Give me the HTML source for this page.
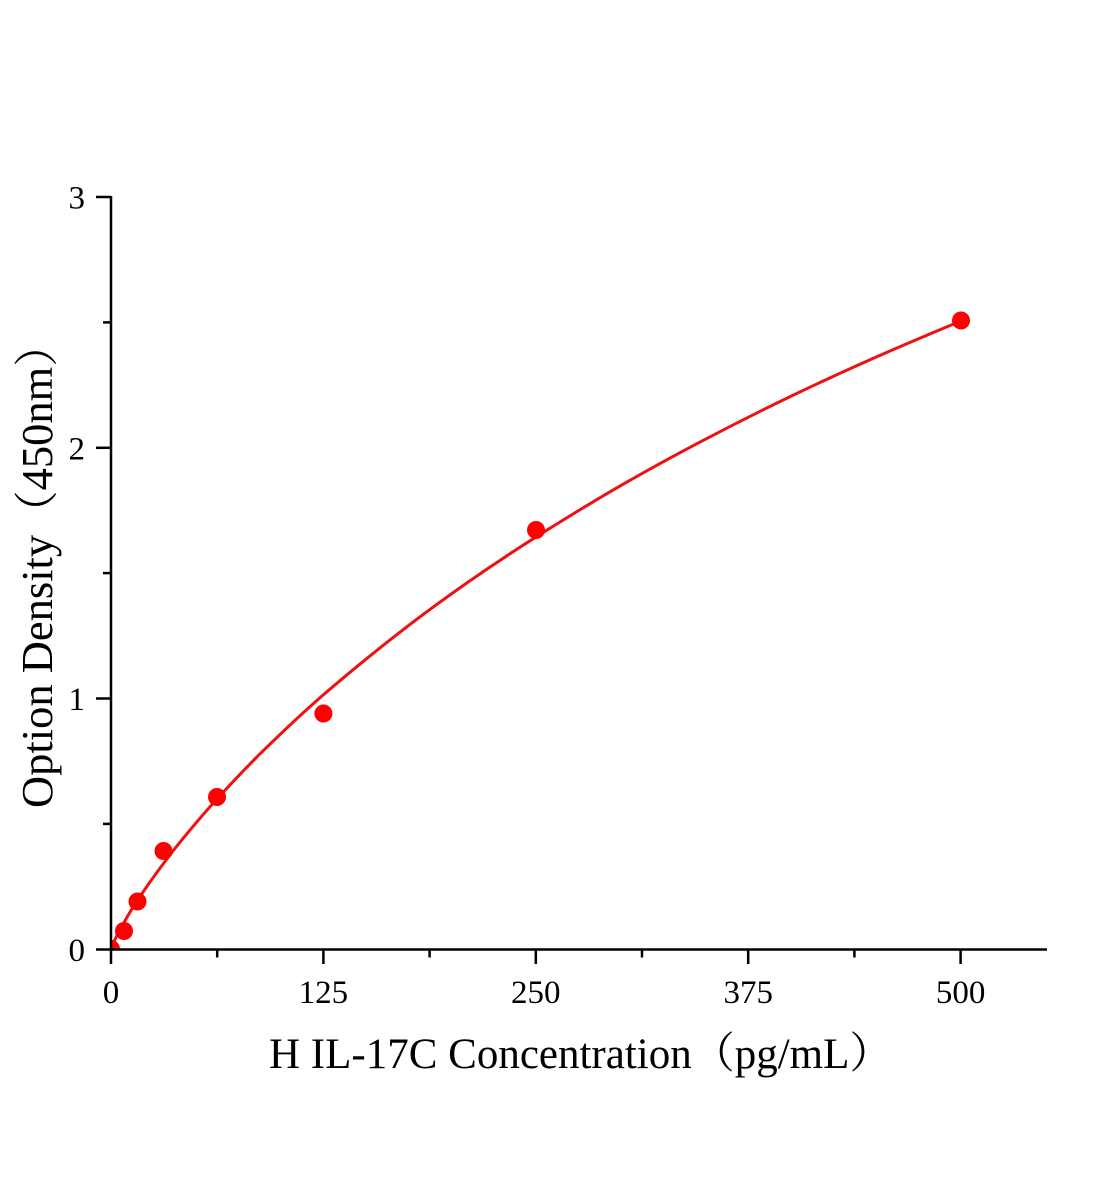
<!DOCTYPE html>
<html>
<head>
<meta charset="utf-8">
<style>
html,body{margin:0;padding:0;background:#fff;}
svg{display:block;}
text{font-family:"Liberation Serif","Noto Serif CJK SC",serif;fill:#000;}
</style>
</head>
<body>
<svg width="1104" height="1200" viewBox="0 0 1104 1200" xmlns="http://www.w3.org/2000/svg">
<defs>
<clipPath id="pa"><rect x="111" y="150" width="960" height="799.5"/></clipPath>
</defs>
<rect width="1104" height="1200" fill="#fff"/>

<g clip-path="url(#pa)">
<path d="M111,949.5 L112.7,944.6 L114.4,940.7 L119.5,930.5 L128,915.5
C131.17,910.19 134.33,905.07 137.5,900.3
C142.83,892.27 148.17,884.41 153.5,877.1
C161.97,865.5 170.43,854.01 178.9,843.6
C191.67,827.91 204.43,812.84 217.2,798.8
C232.77,781.68 248.33,765.34 263.9,750.1
C283.7,730.72 303.5,712.07 323.3,694.9
C348.8,672.79 374.3,652.16 399.8,632.3
C422.43,614.67 445.07,598.24 467.7,582.4
C490.37,566.53 513.03,551.53 535.7,537.2
C564,519.31 592.3,502.03 620.6,485.7
C648.9,469.37 677.2,454.06 705.5,439.2
C733.8,424.34 762.1,410.11 790.4,396.5
C818.73,382.87 847.07,369.95 875.4,357.4
C903.7,344.86 932,332.94 960.3,321.2" fill="none" stroke="#ee1111" stroke-width="3" stroke-linejoin="round"/>
<g fill="#ff0000">
<circle cx="111" cy="949" r="9"/>
<circle cx="124" cy="931" r="9"/>
<circle cx="137.5" cy="901.5" r="9"/>
<circle cx="163.5" cy="851" r="9"/>
<circle cx="217" cy="797" r="9"/>
<circle cx="323.4" cy="713.5" r="9"/>
<circle cx="536" cy="530" r="9"/>
<circle cx="961" cy="320.5" r="9"/>
</g>
</g>

<g stroke="#000" stroke-width="2.5" fill="none">
<line x1="111" y1="196" x2="111" y2="950.5"/>
<line x1="109.8" y1="949.5" x2="1047" y2="949.5"/>
<line x1="96" y1="197" x2="111" y2="197"/>
<line x1="96" y1="447.8" x2="111" y2="447.8"/>
<line x1="96" y1="698.5" x2="111" y2="698.5"/>
<line x1="96" y1="949.5" x2="111" y2="949.5"/>
<line x1="103" y1="322.4" x2="111" y2="322.4"/>
<line x1="103" y1="573.1" x2="111" y2="573.1"/>
<line x1="103" y1="823.9" x2="111" y2="823.9"/>
<line x1="111" y1="949.5" x2="111" y2="964"/>
<line x1="323.4" y1="949.5" x2="323.4" y2="964"/>
<line x1="535.8" y1="949.5" x2="535.8" y2="964"/>
<line x1="748.2" y1="949.5" x2="748.2" y2="964"/>
<line x1="960.6" y1="949.5" x2="960.6" y2="964"/>
<line x1="217.2" y1="949.5" x2="217.2" y2="957.5"/>
<line x1="429.6" y1="949.5" x2="429.6" y2="957.5"/>
<line x1="642" y1="949.5" x2="642" y2="957.5"/>
<line x1="854.4" y1="949.5" x2="854.4" y2="957.5"/>
</g>

<g font-size="33">
<text x="85" y="208.5" text-anchor="end">3</text>
<text x="85" y="459.5" text-anchor="end">2</text>
<text x="85" y="710" text-anchor="end">1</text>
<text x="85" y="961" text-anchor="end">0</text>

<text x="111" y="1003" text-anchor="middle">0</text>
<text x="323.4" y="1003" text-anchor="middle">125</text>
<text x="535.8" y="1003" text-anchor="middle">250</text>
<text x="748.2" y="1003" text-anchor="middle">375</text>
<text x="960.6" y="1003" text-anchor="middle">500</text>
</g>

<text x="269" y="1068" font-size="43">H IL-17C Concentration（pg/mL）</text>
<text x="52" y="808" font-size="44.5" transform="rotate(-90 52 808)">Option Density（450nm）</text>
</svg>
</body>
</html>
